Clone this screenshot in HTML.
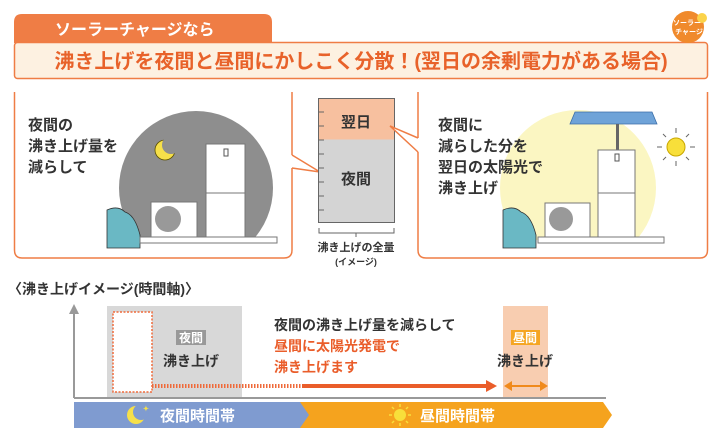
<!DOCTYPE html>
<html><head><meta charset="utf-8"><style>
body{margin:0;background:#fff;}
svg text{font-family:"Liberation Sans","Noto Sans CJK JP",sans-serif;font-weight:bold;}
</style></head><body>
<svg width="722" height="438" viewBox="0 0 722 438" xmlns="http://www.w3.org/2000/svg">
<path d="M14 43 V22 Q14 14 22 14 H264 Q272 14 272 22 V43 Z" fill="#ef7d45"/>
<text x="55" y="35" font-size="16" fill="#fff">ソーラーチャージなら</text>
<rect x="14.5" y="42.5" width="693" height="36" rx="3" fill="#fdf1e1" stroke="#ef7d45" stroke-width="1.5"/>
<text x="361" y="68" font-size="20" fill="#e8622a" text-anchor="middle">沸き上げを夜間と昼間にかしこく分散！(翌日の余剰電力がある場合)</text>
<circle cx="688" cy="27" r="16" fill="#f08a2c"/>
<circle cx="702" cy="18" r="5" fill="#fbd34a"/>
<text x="687" y="25" font-size="7" fill="#fff" text-anchor="middle">ソーラー</text>
<text x="689" y="34" font-size="7" fill="#fff" text-anchor="middle">チャージ</text>

<path d="M14.5 92 V250 Q14.5 258 22 258 H284 Q292 258 292 250 V168 M292 155 V92" fill="none" stroke="#ef7d45" stroke-width="1.5"/>
<path d="M292 155 L320 172 L292 168" fill="#fff" stroke="#ef7d45" stroke-width="1.5"/>
<clipPath id="cl"><rect x="0" y="90" width="722" height="150"/></clipPath>
<circle cx="196" cy="188" r="77" fill="#8e8e8e" clip-path="url(#cl)"/>
<circle cx="165" cy="150" r="10" fill="#f6e04a" stroke="#5a5000" stroke-width="0.8"/>
<circle cx="171" cy="145" r="9" fill="#8e8e8e"/>
<rect x="206" y="144" width="39" height="93" fill="#fff" stroke="#777"/>
<line x1="206" y1="193" x2="245" y2="193" stroke="#777"/>
<rect x="224" y="149" width="4" height="7" fill="#fff" stroke="#555"/>
<rect x="151" y="202" width="46" height="35" fill="#fff" stroke="#777"/>
<circle cx="168" cy="219" r="13" fill="#999"/>
<path d="M107 210 Q118 205 125 212 Q135 215 140 235 V248 H107Z" fill="#6ab8c4" stroke="#333" stroke-width="0.8"/>
<rect x="140" y="237" width="137" height="6" fill="#fff" stroke="#777"/>
<text font-size="15" fill="#333"><tspan x="28" y="130">夜間の</tspan><tspan x="28" y="151">沸き上げ量を</tspan><tspan x="28" y="172">減らして</tspan></text>

<rect x="318.5" y="98.5" width="76" height="41" fill="#f7c09f"/>
<rect x="318.5" y="139.5" width="76" height="83" fill="#d4d4d4"/>
<rect x="318.5" y="98.5" width="76" height="124" fill="none" stroke="#666"/>
<g stroke="#666"><line x1="319" y1="112" x2="324" y2="112"/><line x1="319" y1="126" x2="324" y2="126"/><line x1="319" y1="140" x2="324" y2="140"/><line x1="319" y1="154" x2="324" y2="154"/><line x1="319" y1="168" x2="324" y2="168"/><line x1="319" y1="182" x2="324" y2="182"/><line x1="319" y1="196" x2="324" y2="196"/><line x1="319" y1="210" x2="324" y2="210"/></g>
<text x="356" y="127" font-size="15" fill="#333" text-anchor="middle" font-weight="normal">翌日</text>
<text x="356" y="184" font-size="15" fill="#333" text-anchor="middle" font-weight="normal">夜間</text>
<path d="M319 228 V233 H394 V228 M356 233 V237" fill="none" stroke="#666"/>
<text x="356" y="251" font-size="11" fill="#333" text-anchor="middle" font-weight="normal">沸き上げの全量</text>
<text x="356" y="265" font-size="9" fill="#333" text-anchor="middle" font-weight="normal">(イメージ)</text>

<path d="M418 92 V138 M418 152 V250 Q418 258 426 258 H700 Q707.5 258 707.5 250 V92" fill="none" stroke="#ef7d45" stroke-width="1.5"/>
<path d="M418 138 L390 126 L418 152" fill="#fff" stroke="#ef7d45" stroke-width="1.5"/>
<circle cx="578" cy="188" r="78" fill="#fbf6c2" clip-path="url(#cl)"/>
<path d="M575 112 H652 L657 124 H570Z" fill="#6fa3d8" stroke="#3c6fa8" stroke-width="0.8"/>
<rect x="616" y="124" width="3" height="26" fill="#666"/>
<circle cx="676" cy="147" r="9" fill="#f8df3a" stroke="#c9a700"/>
<g stroke="#666" stroke-width="1"><line x1="676" y1="128" x2="676" y2="133"/><line x1="676" y1="161" x2="676" y2="166"/><line x1="657" y1="147" x2="662" y2="147"/><line x1="690" y1="147" x2="695" y2="147"/><line x1="663" y1="134" x2="666" y2="137"/><line x1="689" y1="134" x2="686" y2="137"/><line x1="663" y1="160" x2="666" y2="157"/><line x1="689" y1="160" x2="686" y2="157"/></g>
<rect x="598" y="150" width="37" height="87" fill="#fff" stroke="#777"/>
<line x1="598" y1="193" x2="635" y2="193" stroke="#777"/>
<rect x="615" y="154" width="4" height="7" fill="#fff" stroke="#555"/>
<rect x="545" y="203" width="45" height="34" fill="#fff" stroke="#777"/>
<circle cx="561" cy="219" r="12" fill="#999"/>
<path d="M503 210 Q514 205 521 212 Q531 215 536 235 V248 H503Z" fill="#6ab8c4" stroke="#333" stroke-width="0.8"/>
<rect x="538" y="237" width="126" height="6" fill="#fff" stroke="#777"/>
<text font-size="15" fill="#333"><tspan x="438" y="130">夜間に</tspan><tspan x="438" y="151">減らした分を</tspan><tspan x="438" y="172">翌日の太陽光で</tspan><tspan x="438" y="193">沸き上げ</tspan></text>

<text x="8" y="294" font-size="14" fill="#333">〈沸き上げイメージ(時間軸)〉</text>
<rect x="107" y="306" width="135" height="92" fill="#d8d8d8"/>
<rect x="113" y="312" width="39" height="80" fill="#fff" stroke="#ef6a3a" stroke-width="1.5" stroke-dasharray="2 1.5"/>
<rect x="503" y="306" width="45" height="92" fill="#f8cdb0"/>
<line x1="74" y1="398" x2="606" y2="398" stroke="#999" stroke-width="2"/>
<line x1="74" y1="398" x2="74" y2="312" stroke="#999" stroke-width="2"/>
<path d="M69 314 L74 304 L79 314Z" fill="#999"/>
<rect x="176" y="330" width="30" height="15" fill="#999"/>
<text x="191" y="342" font-size="12" fill="#fff" text-anchor="middle">夜間</text>
<text x="191" y="366" font-size="14" fill="#333" text-anchor="middle">沸き上げ</text>
<rect x="511" y="330" width="29" height="15" fill="#f5a623"/>
<text x="525" y="342" font-size="12" fill="#fff" text-anchor="middle">昼間</text>
<text x="525" y="366" font-size="14" fill="#333" text-anchor="middle">沸き上げ</text>
<line x1="152" y1="386" x2="302" y2="386" stroke="#ef6a3a" stroke-width="4" stroke-dasharray="1.5 1.5"/>
<line x1="302" y1="386" x2="488" y2="386" stroke="#ea5d2a" stroke-width="4"/>
<path d="M486 380 L497 386 L486 392Z" fill="#ea5d2a"/>
<line x1="510" y1="386" x2="542" y2="386" stroke="#f08a1c" stroke-width="2"/>
<path d="M512 381 L504 386 L512 391Z M540 381 L548 386 L540 391Z" fill="#f08a1c"/>
<text x="274" y="330" font-size="14" fill="#333">夜間の沸き上げ量を減らして</text>
<text x="274" y="351" font-size="14" fill="#ea5d2a">昼間に太陽光発電で</text>
<text x="274" y="372" font-size="14" fill="#ea5d2a">沸き上げます</text>
<path d="M300 402 H603 L612 415 L603 428 H300Z" fill="#f5a31e"/>
<path d="M74 402 H300 L309 415 L300 428 H74Z" fill="#7f9bd0"/>
<circle cx="136" cy="415" r="9" fill="#f6e04a"/>
<circle cx="141" cy="412" r="8" fill="#7f9bd0"/>
<text x="143" y="411" font-size="7" fill="#f6e04a">✦</text>
<text x="160" y="421" font-size="15" fill="#fff">夜間時間帯</text>
<circle cx="400" cy="415" r="6" fill="#f8df3a"/>
<g stroke="#f8df3a" stroke-width="1.5"><line x1="400" y1="404" x2="400" y2="407"/><line x1="400" y1="423" x2="400" y2="426"/><line x1="389" y1="415" x2="392" y2="415"/><line x1="408" y1="415" x2="411" y2="415"/><line x1="392" y1="407" x2="394" y2="409"/><line x1="408" y1="407" x2="406" y2="409"/><line x1="392" y1="423" x2="394" y2="421"/><line x1="408" y1="423" x2="406" y2="421"/></g>
<text x="420" y="421" font-size="15" fill="#fff">昼間時間帯</text>
</svg>
</body></html>
